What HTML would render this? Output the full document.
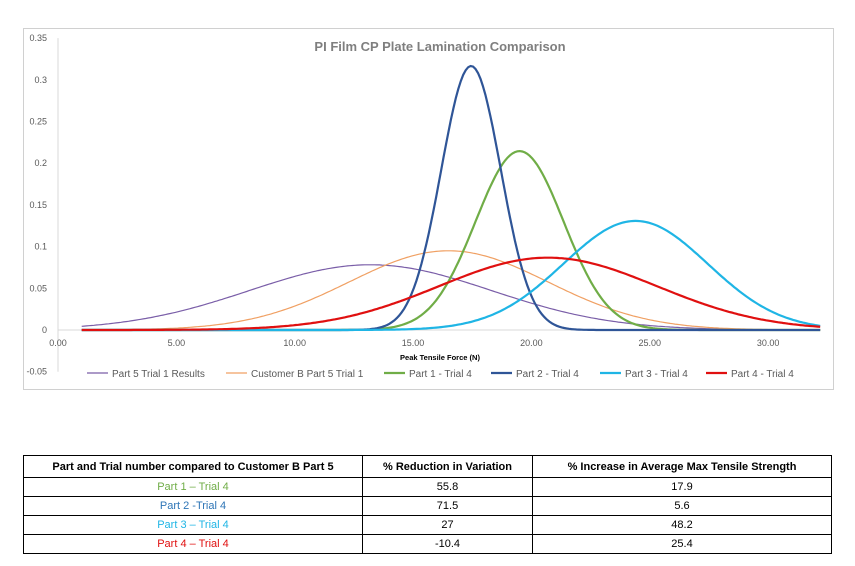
<!DOCTYPE html>
<html><head><meta charset="utf-8">
<style>
body{margin:0;background:#fff;width:855px;height:566px;overflow:hidden;font-family:"Liberation Sans",sans-serif;}
#chart{position:absolute;left:0;top:0;}
table{position:absolute;left:23px;top:455px;width:809px;border-collapse:collapse;font-size:11px;}
td,th{border:1px solid #000;text-align:center;padding:0;height:18px;}
th{height:21px;font-weight:bold;}
</style></head><body>
<svg id="chart" width="855" height="440">
<rect x="23.5" y="28.5" width="810" height="361" fill="#fff" stroke="#d0d0d0"/>
<text x="440" y="51" text-anchor="middle" font-size="13" font-weight="bold" fill="#7f7f7f">PI Film CP Plate Lamination Comparison</text>
<text x="440" y="360" text-anchor="middle" font-size="7.5" font-weight="bold" fill="#000">Peak Tensile Force (N)</text>
<g id="axes"></g><g id="series"></g><g id="legend"></g>
</svg>
<table>
<tr><th style="width:338px">Part and Trial number compared to Customer B Part 5</th><th style="width:169px">% Reduction in Variation</th><th>% Increase in Average Max Tensile Strength</th></tr>
<tr><td style="color:#70ad47">Part 1 – Trial 4</td><td>55.8</td><td>17.9</td></tr>
<tr><td style="color:#2e75b6">Part 2 -Trial 4</td><td>71.5</td><td>5.6</td></tr>
<tr><td style="color:#1fb5e5">Part 3 – Trial 4</td><td>27</td><td>48.2</td></tr>
<tr><td style="color:#e01010">Part 4 – Trial 4</td><td>-10.4</td><td>25.4</td></tr>
</table>
<script>
const seriesNames=["Part 5 Trial 1 Results","Customer B Part 5 Trial 1","Part 1 - Trial 4","Part 2 - Trial 4","Part 3 - Trial 4","Part 4 - Trial 4"];
const seriesMeans=[13.2,16.5,19.5,17.45,24.4,20.7];
const seriesSDs=[5.1,4.2,1.86,1.26,3.05,4.6];
const xTicks=["0.00","5.00","10.00","15.00","20.00","25.00","30.00"];
const yTicks=["-0.05","0","0.05","0.1","0.15","0.2","0.25","0.3","0.35"];
const xStart=1, xEnd=32.2;
const colors=["#7a5ea8","#f0a063","#70ad47","#2f5597","#1fb5e5","#e01010"];
const widths=[1.2,1.2,2.2,2.2,2.2,2.2];
const NS="http://www.w3.org/2000/svg";
const X=v=>58+v*23.67, Y=v=>330-v*834;
function mk(t,a,p){const e=document.createElementNS(NS,t);for(const k in a)e.setAttribute(k,a[k]);p.appendChild(e);return e;}
const ax=document.getElementById('axes');
const yl=mk('line',{x1:58,x2:58,y1:Y(0.35),y2:Y(-0.05),stroke:'#d9d9d9'},ax);


const xl=mk('line',{x1:58,x2:816,y1:Y(0),y2:Y(0),stroke:'#d9d9d9'},ax);


yTicks.forEach(t=>{const e=mk('text',{x:47,y:Y(+t)+3,'text-anchor':'end','font-size':9,fill:'#595959'},ax);e.textContent=t;

});
xTicks.forEach(t=>{const e=mk('text',{x:X(+t),y:346,'text-anchor':'middle','font-size':9,fill:'#595959'},ax);e.textContent=t;

});
const sg=document.getElementById('series');
seriesMeans.forEach((m,i)=>{const s=seriesSDs[i];let d='';
for(let k=0;k<=300;k++){const x=xStart+(xEnd-xStart)*k/300;const y=Math.exp(-0.5*((x-m)/s)**2)/(s*Math.sqrt(2*Math.PI));d+=(k?'L':'M')+X(x).toFixed(1)+','+Y(y).toFixed(1);}
const p=mk('path',{d:d,fill:'none',stroke:colors[i],'stroke-width':widths[i]},sg);

});
const lg=document.getElementById('legend');
const lx=[87,226,384,491,600,706];
seriesNames.forEach((n,i)=>{const g=mk('g',{},lg);


mk('line',{x1:lx[i],x2:lx[i]+21,y1:373,y2:373,stroke:colors[i],'stroke-width':widths[i]},g);
const t=mk('text',{x:lx[i]+25,y:377,'font-size':10,fill:'#595959'},g);t.textContent=n;});
</script>
</body></html>
